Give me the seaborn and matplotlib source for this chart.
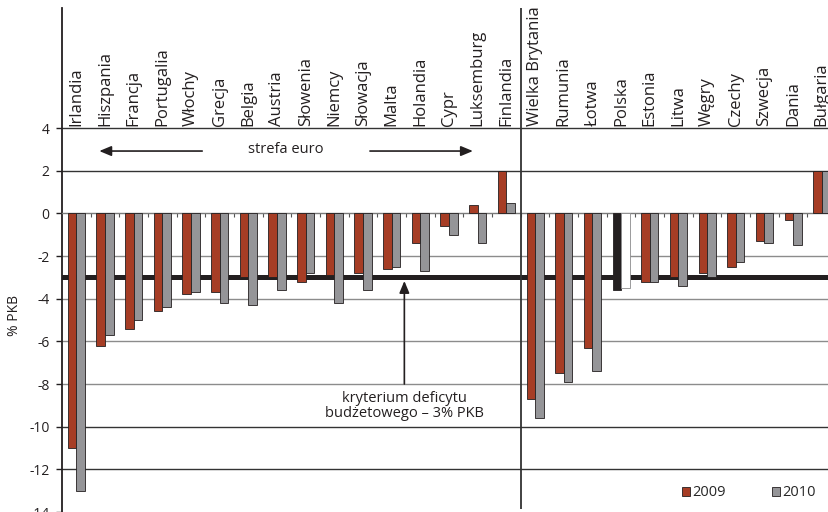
import numpy as np
import pandas as pd
import matplotlib
matplotlib.use("Agg")
import matplotlib.pyplot as plt
from matplotlib.patches import Patch
import seaborn as sns

# Saldo sektora finansów publicznych w krajach UE (% PKB)
kraje = ["Irlandia", "Hiszpania", "Francja", "Portugalia", "Włochy", "Grecja",
         "Belgia", "Austria", "Słowenia", "Niemcy", "Słowacja", "Malta",
         "Holandia", "Cypr", "Luksemburg", "Finlandia",
         "Wielka Brytania", "Rumunia", "Łotwa", "Polska", "Estonia", "Litwa",
         "Węgry", "Czechy", "Szwecja", "Dania", "Bułgaria"]
saldo_2009 = [-11.0, -6.2, -5.4, -4.6, -3.8, -3.7, -3.0, -3.0, -3.2, -2.9,
              -2.8, -2.6, -1.4, -0.6, 0.4, 2.0,
              -8.7, -7.5, -6.3, -3.6, -3.2, -3.0, -2.8, -2.5, -1.3, -0.3, 2.0]
saldo_2010 = [-13.0, -5.7, -5.0, -4.4, -3.7, -4.2, -4.3, -3.6, -2.8, -4.2,
              -3.6, -2.5, -2.7, -1.0, -1.4, 0.5,
              -9.6, -7.9, -7.4, -3.5, -3.2, -3.4, -3.0, -2.3, -1.4, -1.5, 2.0]
lata = ["2009", "2010"]
liczba_strefa_euro = 16
kryterium = -3.0
podswietlony = "Polska"

CZERWONY = "#A63D25"
SZARY = "#959598"
CZARNY = "#231F20"

df = pd.DataFrame({
    "kraj": kraje * 2,
    "rok": [lata[0]] * len(kraje) + [lata[1]] * len(kraje),
    "saldo": saldo_2009 + saldo_2010,
})

sns.set_theme(style="white")
plt.rcParams["font.family"] = ["Open Sans", "DejaVu Sans"]
plt.rcParams["axes.unicode_minus"] = False

fig = plt.figure(figsize=(8.29, 5.12), dpi=100)
ax = fig.add_axes([62 / 829, 0.0, 1 - 62 / 829, 1.0])

sns.barplot(data=df, x="kraj", y="saldo", hue="rok", order=kraje,
            hue_order=lata, palette=[CZERWONY, SZARY], width=0.6,
            saturation=1, edgecolor=CZARNY, linewidth=0.6, legend=False,
            ax=ax, zorder=3)

# wyróżnienie Polski: 2009 czarny, 2010 biały
i_pl = kraje.index(podswietlony)
for p in ax.patches:
    c = p.get_x() + p.get_width() / 2
    if int(round(c)) == i_pl:
        if c < i_pl:
            p.set_facecolor(CZARNY)
        else:
            p.set_facecolor("white")
            p.set_edgecolor("#8A8A8C")

y_top = 9.64
ax.set_xlim(-0.5, 26.25)
ax.set_ylim(-13.86, 10.0)

# linie siatki
for y in range(-12, 5, 2):
    if y == 0:
        continue
    kolor = "#8C8C8C" if -8 <= y <= -2 else "#333333"
    ax.axhline(y, color=kolor, lw=1.0, zorder=1)
ax.axhline(kryterium, color=CZARNY, lw=3.6, zorder=2)

# podział: strefa euro / pozostałe kraje
ax.vlines(liczba_strefa_euro - 0.5, -13.86, y_top, color="#333333", lw=1.3,
          zorder=4)

# osie
for s in ["top", "right"]:
    ax.spines[s].set_visible(False)
ax.spines["left"].set_bounds(-14, y_top)
ax.spines["left"].set_color(CZARNY)
ax.spines["left"].set_linewidth(1.3)
ax.spines["bottom"].set_position(("data", 0))
ax.spines["bottom"].set_color("#7A7A7A")
ax.spines["bottom"].set_linewidth(1.0)
ax.spines["bottom"].set_zorder(2.5)

ax.set_yticks(range(-14, 5, 2))
ax.set_yticklabels([str(v) for v in range(-14, 5, 2)])
ax.tick_params(axis="y", which="major", direction="out", length=4, width=1,
               color=CZARNY, labelsize=10, labelcolor=CZARNY, pad=5, left=True)
ax.set_xticks(range(len(kraje)))
ax.set_xticklabels([])
ax.set_xticks(np.arange(0.5, len(kraje) - 1, 1), minor=True)
ax.tick_params(axis="x", which="major", length=0)
ax.tick_params(axis="x", which="minor", direction="out", length=3, width=0.8,
               color="#555555", bottom=True)
ax.set_xlabel("")
ax.set_ylabel("")
ax.grid(False)

# nazwy krajów nad wykresem
for i, k in enumerate(kraje):
    ax.text(i, 4.09, k, rotation=90, ha="center", va="bottom", fontsize=12,
            color=CZARNY)

# strefa euro
srodek = (liczba_strefa_euro - 1) / 2 - 0.2
ax.text(srodek, 3.0, "strefa euro", ha="center", va="center", fontsize=10.5,
        color=CZARNY)
strz = dict(arrowstyle="-|>,head_length=0.6,head_width=0.25", color=CZARNY,
            lw=1.2, shrinkA=0, shrinkB=0)
ax.annotate("", xy=(0.8, 2.92), xytext=(4.39, 2.92), arrowprops=strz)
ax.annotate("", xy=(13.83, 2.92), xytext=(10.24, 2.92), arrowprops=strz)

# kryterium deficytu
ax.annotate("", xy=(11.44, kryterium - 0.17), xytext=(11.44, -8.0),
            arrowprops=strz)
ax.text(11.43, -8.35, "kryterium deficytu\nbudżetowego – 3% PKB",
        ha="center", va="top", fontsize=10.5, color=CZARNY, linespacing=1.0)

fig.text(15 / 829, 1 - 315 / 512, "% PKB", rotation=90, ha="center",
         va="center", fontsize=10, color=CZARNY)

uchwyty = [Patch(facecolor=CZERWONY, edgecolor=CZARNY, lw=0.6, label=lata[0]),
           Patch(facecolor=SZARY, edgecolor=CZARNY, lw=0.6, label=lata[1])]
ax.legend(handles=uchwyty, loc="center", bbox_to_anchor=(749 / 829, 1 - 493 / 512),
          bbox_transform=fig.transFigure, ncol=2, frameon=False,
          handlelength=0.55, handleheight=0.55, handletextpad=0.15,
          columnspacing=3.2, fontsize=10.5, borderpad=0, borderaxespad=0)

fig.savefig("out.png", dpi=100)
